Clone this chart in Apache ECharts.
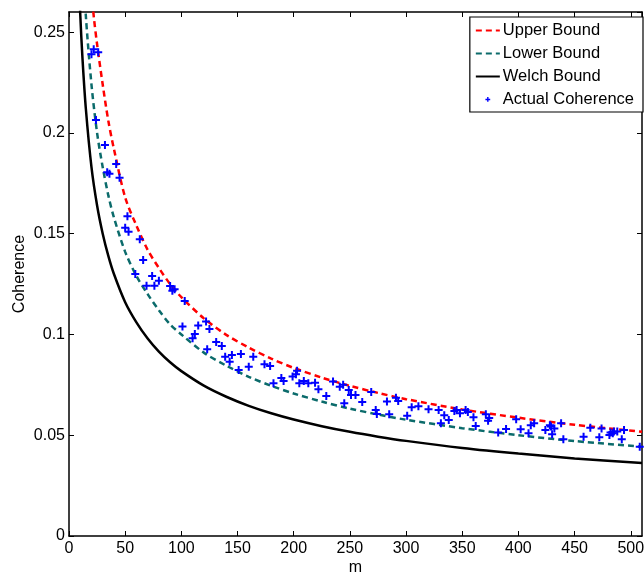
<!DOCTYPE html>
<html>
<head>
<meta charset="utf-8">
<script src="https://cdn.jsdelivr.net/npm/echarts@6/dist/echarts.min.js"></script>
<style>html,body{margin:0;padding:0;background:#fff}#c{width:644px;height:578px}</style>
</head>
<body>
<div id="c"></div>
<script>
// ---- data ----
const upperM = [18, 20, 22, 25, 30, 35, 40, 50, 60, 70, 80, 90, 100, 120, 140, 160, 180, 200, 225, 250, 275, 300, 350, 400, 450, 510];
const upperV = [0.285, 0.271, 0.258, 0.244, 0.224, 0.206, 0.192, 0.168, 0.154, 0.142, 0.133, 0.125, 0.1185, 0.108, 0.0998, 0.0935, 0.0880, 0.0834, 0.0786, 0.0745, 0.0710, 0.0679, 0.0628, 0.0587, 0.0552, 0.0517];

const lowerM = [12, 15, 20, 25, 30, 35, 40, 50, 60, 70, 80, 90, 100, 120, 140, 160, 180, 200, 225, 250, 275, 300, 350, 400, 450, 510];
const lowerV = [0.289, 0.258, 0.224, 0.200, 0.183, 0.169, 0.158, 0.141, 0.129, 0.120, 0.112, 0.105, 0.100, 0.091, 0.0845, 0.079, 0.0745, 0.0707, 0.0667, 0.0632, 0.0603, 0.0577, 0.0535, 0.0500, 0.0471, 0.0443];

const welchM = [8, 10, 12, 15, 20, 25, 30, 35, 40, 50, 60, 70, 80, 90, 100, 120, 140, 160, 180, 200, 225, 250, 275, 300, 350, 400, 450, 510];
const welchV = [0.29, 0.259, 0.237, 0.212, 0.183, 0.164, 0.150, 0.139, 0.130, 0.116, 0.106, 0.098, 0.0915, 0.0862, 0.0818, 0.0746, 0.0691, 0.0646, 0.0609, 0.0578, 0.0545, 0.0517, 0.0493, 0.0472, 0.0437, 0.0409, 0.0385, 0.0362];

const actualM = [20, 22, 26, 24, 32, 34, 36, 42, 45,
  52, 50, 53, 63, 66, 59, 74, 69, 76, 80, 90, 92, 94,
  103, 101, 115, 122, 125, 112, 110, 131, 136, 153, 145, 139, 143, 123, 151, 160,
  164, 174, 179, 182, 189, 191, 199, 202, 203, 205, 209, 213, 219, 222, 229, 235, 241, 244, 245,
  249, 251, 255, 261, 269, 273, 274, 283, 285, 291, 293, 301, 305, 311, 320, 329, 334, 338, 331,
  343, 345, 348, 353, 355, 360, 362, 371, 374, 373,
  382, 389, 398, 402, 409, 411, 414, 424, 428, 429, 430, 432, 438, 440,
  458, 464, 472, 474, 481, 482, 484, 485, 488, 492, 494, 508];
const actualV = [0.239, 0.2415, 0.240, 0.2064, 0.194, 0.1805, 0.1797, 0.1846, 0.1778,
  0.1587, 0.1529, 0.151, 0.1472, 0.137, 0.130, 0.129, 0.1242, 0.1242, 0.1266, 0.1241, 0.1217, 0.1224,
  0.1166, 0.1039, 0.1044, 0.1064, 0.1027, 0.1002, 0.0981, 0.0963, 0.0943, 0.0903, 0.0898, 0.089, 0.0864, 0.0927, 0.0824, 0.084,
  0.089, 0.0852, 0.0844, 0.0758, 0.0784, 0.0769, 0.0791, 0.0802, 0.082, 0.0758, 0.0769, 0.0758, 0.0761, 0.0728, 0.0695, 0.0766, 0.0741, 0.0751, 0.0659,
  0.0725, 0.070, 0.070, 0.0665, 0.0715, 0.0625, 0.0605, 0.0667, 0.0604, 0.0686, 0.067, 0.0597, 0.0639, 0.0644, 0.0629, 0.0625, 0.0599, 0.0576, 0.0559,
  0.062, 0.0625, 0.0609, 0.0625, 0.0615, 0.0589, 0.0546, 0.0604, 0.0586, 0.0572,
  0.0513, 0.0531, 0.0579, 0.053, 0.051, 0.0549, 0.0559, 0.0526, 0.0549, 0.0543, 0.0505, 0.0533, 0.0559, 0.048,
  0.0493, 0.0537, 0.049, 0.0534, 0.0501, 0.0513, 0.051, 0.0518, 0.0518, 0.048, 0.0526, 0.0443];

const xTicks = {min: 0, max: 510, interval: 50};
const yTicks = {min: 0, max: 0.26, interval: 0.05};
const seriesNames = ['Upper Bound', 'Lower Bound', 'Welch Bound', 'Actual Coherence'];

// ---- chart ----
const zip = (a, b) => a.map((v, i) => [v, b[i]]);
const FONT = 'Liberation Sans';
const plusPath = 'path://M3,0H5V3H8V5H5V8H3V5H0V3H3Z';
const legendPlus = 'path://M0,0h0.05v0.05h-0.05z M24,16h0.05v0.05h-0.05z M11.3,5.6h1.4v1.7h1.7v1.4h-1.7v1.7h-1.4v-1.7h-1.7v-1.4h1.7z';

const chart = echarts.init(document.getElementById('c'), null, {renderer: 'canvas'});
const axisCommon = {
  axisLine: {show: true, onZero: false, lineStyle: {color: '#000', width: 1.5}},
  axisTick: {show: true, inside: true, length: 5, lineStyle: {color: '#000', width: 1}},
  splitLine: {show: false}
};
const hideSym = {itemStyle: {opacity: 0}};
chart.setOption({
  animation: false,
  backgroundColor: '#fff',
  grid: {left: 69, right: 2, top: 12, bottom: 42, containLabel: false, outerBoundsMode: 'none'},
  xAxis: [
    Object.assign({type: 'value', position: 'bottom', min: xTicks.min, max: xTicks.max, interval: xTicks.interval,
      name: 'm', nameLocation: 'middle', nameGap: 24, nameMoveOverlap: false,
      nameTextStyle: {fontFamily: FONT, fontSize: 16, color: '#000'},
      axisLabel: {fontFamily: FONT, fontSize: 16, color: '#000', margin: 5, showMaxLabel: false}}, axisCommon),
    Object.assign({type: 'value', position: 'top', min: xTicks.min, max: xTicks.max, interval: xTicks.interval,
      axisLabel: {show: false}}, axisCommon)
  ],
  yAxis: [
    Object.assign({type: 'value', position: 'left', min: yTicks.min, max: yTicks.max, interval: yTicks.interval,
      name: 'Coherence', nameLocation: 'middle', nameGap: 41, nameRotate: 90, nameMoveOverlap: false,
      nameTextStyle: {fontFamily: FONT, fontSize: 16, color: '#000'},
      axisLabel: {fontFamily: FONT, fontSize: 16, color: '#000', margin: 4, showMaxLabel: false}}, axisCommon),
    Object.assign({type: 'value', position: 'right', min: yTicks.min, max: yTicks.max, interval: yTicks.interval,
      axisLabel: {show: false}}, axisCommon)
  ],
  legend: {
    orient: 'vertical', right: 1, top: 17,
    backgroundColor: '#fff', borderColor: '#000', borderWidth: 1.2, borderRadius: 0,
    padding: [5, 9, 4, 5], itemGap: 6, itemWidth: 24, itemHeight: 16,
    textStyle: {fontFamily: FONT, fontSize: 16.5, color: '#000', padding: [0, 0, 0, -2]},
    data: [
      Object.assign({name: seriesNames[0]}, hideSym),
      Object.assign({name: seriesNames[1]}, hideSym),
      Object.assign({name: seriesNames[2]}, hideSym),
      {name: seriesNames[3], icon: legendPlus}
    ]
  },
  series: [
    {name: seriesNames[2], type: 'line', data: zip(welchM, welchV), symbol: 'none', smooth: 0.3,
      lineStyle: {color: '#000', width: 2.5}, itemStyle: {color: '#000'}, z: 3},
    {name: seriesNames[1], type: 'line', data: zip(lowerM, lowerV), symbol: 'none', smooth: 0.3,
      lineStyle: {color: '#0b6b6b', width: 2.5, type: [6, 4]}, itemStyle: {color: '#0b6b6b'}, z: 4},
    {name: seriesNames[0], type: 'line', data: zip(upperM, upperV), symbol: 'none', smooth: 0.3,
      lineStyle: {color: '#ff0000', width: 2.5, type: [6, 4]}, itemStyle: {color: '#ff0000'}, z: 5},
    {name: seriesNames[3], type: 'scatter', data: zip(actualM, actualV), symbol: plusPath, symbolSize: 8,
      itemStyle: {color: '#0000ff', opacity: 1}, z: 6}
  ]
});
</script>
</body>
</html>
